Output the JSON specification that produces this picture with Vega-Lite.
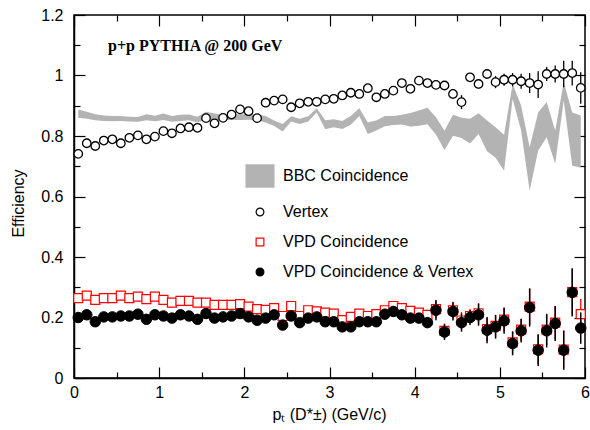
{
  "$schema": "https://vega.github.io/schema/vega-lite/v6.json",
  "width": 511,
  "height": 363,
  "autosize": "none",
  "padding": {"left": 74, "top": 15, "right": 5, "bottom": 52},
  "background": "white",
  "config": {
    "view": {"stroke": "black", "strokeWidth": 1.5},
    "axis": {"grid": false, "labelColor": "black", "tickColor": "black", "domainColor": "black"}
  },
  "datasets": {
    "band": [
      {"pt": 0.05, "lo": 0.860, "hi": 0.888}, {"pt": 0.15, "lo": 0.857, "hi": 0.880},
      {"pt": 0.25, "lo": 0.852, "hi": 0.872}, {"pt": 0.35, "lo": 0.850, "hi": 0.868},
      {"pt": 0.45, "lo": 0.849, "hi": 0.866}, {"pt": 0.55, "lo": 0.850, "hi": 0.866},
      {"pt": 0.65, "lo": 0.848, "hi": 0.864}, {"pt": 0.75, "lo": 0.847, "hi": 0.863},
      {"pt": 0.85, "lo": 0.852, "hi": 0.872}, {"pt": 0.95, "lo": 0.849, "hi": 0.867},
      {"pt": 1.05, "lo": 0.853, "hi": 0.874}, {"pt": 1.15, "lo": 0.847, "hi": 0.866},
      {"pt": 1.25, "lo": 0.850, "hi": 0.870}, {"pt": 1.35, "lo": 0.852, "hi": 0.871},
      {"pt": 1.45, "lo": 0.845, "hi": 0.864}, {"pt": 1.55, "lo": 0.856, "hi": 0.880},
      {"pt": 1.65, "lo": 0.854, "hi": 0.874}, {"pt": 1.75, "lo": 0.852, "hi": 0.870},
      {"pt": 1.85, "lo": 0.853, "hi": 0.871}, {"pt": 1.95, "lo": 0.853, "hi": 0.872},
      {"pt": 2.05, "lo": 0.854, "hi": 0.873}, {"pt": 2.15, "lo": 0.852, "hi": 0.871},
      {"pt": 2.25, "lo": 0.845, "hi": 0.866}, {"pt": 2.35, "lo": 0.833, "hi": 0.851},
      {"pt": 2.45, "lo": 0.815, "hi": 0.840}, {"pt": 2.55, "lo": 0.848, "hi": 0.865},
      {"pt": 2.65, "lo": 0.840, "hi": 0.857}, {"pt": 2.75, "lo": 0.848, "hi": 0.865},
      {"pt": 2.85, "lo": 0.878, "hi": 0.892}, {"pt": 2.95, "lo": 0.822, "hi": 0.852},
      {"pt": 3.05, "lo": 0.829, "hi": 0.855}, {"pt": 3.15, "lo": 0.823, "hi": 0.850},
      {"pt": 3.25, "lo": 0.837, "hi": 0.866}, {"pt": 3.35, "lo": 0.866, "hi": 0.892},
      {"pt": 3.45, "lo": 0.807, "hi": 0.845}, {"pt": 3.55, "lo": 0.818, "hi": 0.851},
      {"pt": 3.65, "lo": 0.832, "hi": 0.866}, {"pt": 3.75, "lo": 0.836, "hi": 0.866},
      {"pt": 3.85, "lo": 0.838, "hi": 0.870}, {"pt": 3.95, "lo": 0.831, "hi": 0.876},
      {"pt": 4.05, "lo": 0.834, "hi": 0.884}, {"pt": 4.15, "lo": 0.839, "hi": 0.893},
      {"pt": 4.25, "lo": 0.805, "hi": 0.862}, {"pt": 4.35, "lo": 0.754, "hi": 0.817},
      {"pt": 4.45, "lo": 0.801, "hi": 0.870}, {"pt": 4.55, "lo": 0.793, "hi": 0.860},
      {"pt": 4.65, "lo": 0.775, "hi": 0.857}, {"pt": 4.75, "lo": 0.807, "hi": 0.875},
      {"pt": 4.85, "lo": 0.750, "hi": 0.851}, {"pt": 4.95, "lo": 0.728, "hi": 0.829},
      {"pt": 5.05, "lo": 0.685, "hi": 0.804}, {"pt": 5.15, "lo": 0.923, "hi": 0.972},
      {"pt": 5.25, "lo": 0.818, "hi": 0.901}, {"pt": 5.35, "lo": 0.619, "hi": 0.763},
      {"pt": 5.45, "lo": 0.752, "hi": 0.878}, {"pt": 5.55, "lo": 0.796, "hi": 0.912},
      {"pt": 5.65, "lo": 0.708, "hi": 0.818}, {"pt": 5.75, "lo": 0.917, "hi": 0.978},
      {"pt": 5.85, "lo": 0.702, "hi": 0.878}, {"pt": 5.95, "lo": 0.696, "hi": 0.868}
    ],
    "vertex": [
      {"pt": 0.05, "eff": 0.741, "err": 0.006}, {"pt": 0.15, "eff": 0.776, "err": 0.006},
      {"pt": 0.25, "eff": 0.767, "err": 0.006}, {"pt": 0.35, "eff": 0.785, "err": 0.006},
      {"pt": 0.45, "eff": 0.789, "err": 0.006}, {"pt": 0.55, "eff": 0.776, "err": 0.006},
      {"pt": 0.65, "eff": 0.794, "err": 0.006}, {"pt": 0.75, "eff": 0.802, "err": 0.006},
      {"pt": 0.85, "eff": 0.789, "err": 0.006}, {"pt": 0.95, "eff": 0.798, "err": 0.006},
      {"pt": 1.05, "eff": 0.816, "err": 0.006}, {"pt": 1.15, "eff": 0.809, "err": 0.006},
      {"pt": 1.25, "eff": 0.825, "err": 0.006}, {"pt": 1.35, "eff": 0.829, "err": 0.006},
      {"pt": 1.45, "eff": 0.827, "err": 0.006}, {"pt": 1.55, "eff": 0.859, "err": 0.006},
      {"pt": 1.65, "eff": 0.842, "err": 0.006}, {"pt": 1.75, "eff": 0.860, "err": 0.006},
      {"pt": 1.85, "eff": 0.871, "err": 0.006}, {"pt": 1.95, "eff": 0.888, "err": 0.006},
      {"pt": 2.05, "eff": 0.882, "err": 0.007}, {"pt": 2.15, "eff": 0.859, "err": 0.007},
      {"pt": 2.25, "eff": 0.910, "err": 0.007}, {"pt": 2.35, "eff": 0.917, "err": 0.007},
      {"pt": 2.45, "eff": 0.921, "err": 0.007}, {"pt": 2.55, "eff": 0.895, "err": 0.007},
      {"pt": 2.65, "eff": 0.908, "err": 0.007}, {"pt": 2.75, "eff": 0.913, "err": 0.007},
      {"pt": 2.85, "eff": 0.913, "err": 0.008}, {"pt": 2.95, "eff": 0.921, "err": 0.008},
      {"pt": 3.05, "eff": 0.923, "err": 0.008}, {"pt": 3.15, "eff": 0.934, "err": 0.008},
      {"pt": 3.25, "eff": 0.943, "err": 0.008}, {"pt": 3.35, "eff": 0.939, "err": 0.009},
      {"pt": 3.45, "eff": 0.958, "err": 0.009}, {"pt": 3.55, "eff": 0.928, "err": 0.009},
      {"pt": 3.65, "eff": 0.939, "err": 0.010}, {"pt": 3.75, "eff": 0.950, "err": 0.010},
      {"pt": 3.85, "eff": 0.975, "err": 0.010}, {"pt": 3.95, "eff": 0.956, "err": 0.011},
      {"pt": 4.05, "eff": 0.983, "err": 0.011}, {"pt": 4.15, "eff": 0.975, "err": 0.011},
      {"pt": 4.25, "eff": 0.969, "err": 0.012}, {"pt": 4.35, "eff": 0.967, "err": 0.012},
      {"pt": 4.45, "eff": 0.939, "err": 0.016}, {"pt": 4.55, "eff": 0.912, "err": 0.023},
      {"pt": 4.65, "eff": 0.994, "err": 0.010}, {"pt": 4.75, "eff": 0.972, "err": 0.015},
      {"pt": 4.85, "eff": 1.005, "err": 0.010}, {"pt": 4.95, "eff": 0.978, "err": 0.020},
      {"pt": 5.05, "eff": 0.986, "err": 0.020}, {"pt": 5.15, "eff": 0.986, "err": 0.022},
      {"pt": 5.25, "eff": 0.981, "err": 0.025}, {"pt": 5.35, "eff": 0.975, "err": 0.033},
      {"pt": 5.45, "eff": 0.970, "err": 0.044}, {"pt": 5.55, "eff": 1.005, "err": 0.023},
      {"pt": 5.65, "eff": 1.005, "err": 0.028}, {"pt": 5.75, "eff": 1.005, "err": 0.044},
      {"pt": 5.85, "eff": 1.008, "err": 0.041}, {"pt": 5.95, "eff": 0.959, "err": 0.052}
    ],
    "vpd": [
      {"pt": 0.05, "eff": 0.264, "err": 0.005}, {"pt": 0.15, "eff": 0.272, "err": 0.005},
      {"pt": 0.25, "eff": 0.258, "err": 0.005}, {"pt": 0.35, "eff": 0.264, "err": 0.005},
      {"pt": 0.45, "eff": 0.264, "err": 0.005}, {"pt": 0.55, "eff": 0.272, "err": 0.005},
      {"pt": 0.65, "eff": 0.264, "err": 0.005}, {"pt": 0.75, "eff": 0.269, "err": 0.005},
      {"pt": 0.85, "eff": 0.261, "err": 0.005}, {"pt": 0.95, "eff": 0.269, "err": 0.005},
      {"pt": 1.05, "eff": 0.258, "err": 0.005}, {"pt": 1.15, "eff": 0.249, "err": 0.005},
      {"pt": 1.25, "eff": 0.255, "err": 0.005}, {"pt": 1.35, "eff": 0.255, "err": 0.005},
      {"pt": 1.45, "eff": 0.249, "err": 0.005}, {"pt": 1.55, "eff": 0.249, "err": 0.005},
      {"pt": 1.65, "eff": 0.242, "err": 0.005}, {"pt": 1.75, "eff": 0.242, "err": 0.005},
      {"pt": 1.85, "eff": 0.242, "err": 0.005}, {"pt": 1.95, "eff": 0.244, "err": 0.005},
      {"pt": 2.05, "eff": 0.236, "err": 0.006}, {"pt": 2.15, "eff": 0.228, "err": 0.006},
      {"pt": 2.25, "eff": 0.225, "err": 0.006}, {"pt": 2.35, "eff": 0.231, "err": 0.006},
      {"pt": 2.45, "eff": 0.205, "err": 0.006}, {"pt": 2.55, "eff": 0.238, "err": 0.006},
      {"pt": 2.65, "eff": 0.205, "err": 0.006}, {"pt": 2.75, "eff": 0.224, "err": 0.006},
      {"pt": 2.85, "eff": 0.220, "err": 0.007}, {"pt": 2.95, "eff": 0.216, "err": 0.007},
      {"pt": 3.05, "eff": 0.213, "err": 0.007}, {"pt": 3.15, "eff": 0.191, "err": 0.007},
      {"pt": 3.25, "eff": 0.202, "err": 0.008}, {"pt": 3.35, "eff": 0.213, "err": 0.008},
      {"pt": 3.45, "eff": 0.205, "err": 0.009}, {"pt": 3.55, "eff": 0.211, "err": 0.009},
      {"pt": 3.65, "eff": 0.224, "err": 0.012}, {"pt": 3.75, "eff": 0.238, "err": 0.014},
      {"pt": 3.85, "eff": 0.231, "err": 0.014}, {"pt": 3.95, "eff": 0.222, "err": 0.015},
      {"pt": 4.05, "eff": 0.216, "err": 0.015}, {"pt": 4.15, "eff": 0.209, "err": 0.016},
      {"pt": 4.25, "eff": 0.228, "err": 0.030}, {"pt": 4.35, "eff": 0.156, "err": 0.024},
      {"pt": 4.45, "eff": 0.224, "err": 0.028}, {"pt": 4.55, "eff": 0.190, "err": 0.028},
      {"pt": 4.65, "eff": 0.205, "err": 0.024}, {"pt": 4.75, "eff": 0.214, "err": 0.034},
      {"pt": 4.85, "eff": 0.162, "err": 0.040}, {"pt": 4.95, "eff": 0.172, "err": 0.037},
      {"pt": 5.05, "eff": 0.193, "err": 0.040}, {"pt": 5.15, "eff": 0.118, "err": 0.037},
      {"pt": 5.25, "eff": 0.160, "err": 0.037}, {"pt": 5.35, "eff": 0.236, "err": 0.060},
      {"pt": 5.45, "eff": 0.095, "err": 0.050}, {"pt": 5.55, "eff": 0.160, "err": 0.052},
      {"pt": 5.65, "eff": 0.183, "err": 0.055}, {"pt": 5.75, "eff": 0.094, "err": 0.062},
      {"pt": 5.85, "eff": 0.284, "err": 0.076}, {"pt": 5.95, "eff": 0.211, "err": 0.050}
    ],
    "vpdv": [
      {"pt": 0.05, "eff": 0.200, "err": 0.006}, {"pt": 0.15, "eff": 0.209, "err": 0.006},
      {"pt": 0.25, "eff": 0.186, "err": 0.006}, {"pt": 0.35, "eff": 0.202, "err": 0.006},
      {"pt": 0.45, "eff": 0.202, "err": 0.006}, {"pt": 0.55, "eff": 0.205, "err": 0.006},
      {"pt": 0.65, "eff": 0.205, "err": 0.006}, {"pt": 0.75, "eff": 0.211, "err": 0.006},
      {"pt": 0.85, "eff": 0.194, "err": 0.006}, {"pt": 0.95, "eff": 0.209, "err": 0.006},
      {"pt": 1.05, "eff": 0.205, "err": 0.006}, {"pt": 1.15, "eff": 0.198, "err": 0.006},
      {"pt": 1.25, "eff": 0.209, "err": 0.006}, {"pt": 1.35, "eff": 0.205, "err": 0.006},
      {"pt": 1.45, "eff": 0.194, "err": 0.006}, {"pt": 1.55, "eff": 0.213, "err": 0.006},
      {"pt": 1.65, "eff": 0.198, "err": 0.006}, {"pt": 1.75, "eff": 0.202, "err": 0.006},
      {"pt": 1.85, "eff": 0.205, "err": 0.006}, {"pt": 1.95, "eff": 0.213, "err": 0.006},
      {"pt": 2.05, "eff": 0.202, "err": 0.007}, {"pt": 2.15, "eff": 0.191, "err": 0.007},
      {"pt": 2.25, "eff": 0.198, "err": 0.007}, {"pt": 2.35, "eff": 0.209, "err": 0.007},
      {"pt": 2.45, "eff": 0.175, "err": 0.007}, {"pt": 2.55, "eff": 0.205, "err": 0.007},
      {"pt": 2.65, "eff": 0.183, "err": 0.007}, {"pt": 2.75, "eff": 0.198, "err": 0.007},
      {"pt": 2.85, "eff": 0.202, "err": 0.008}, {"pt": 2.95, "eff": 0.186, "err": 0.008},
      {"pt": 3.05, "eff": 0.186, "err": 0.008}, {"pt": 3.15, "eff": 0.169, "err": 0.008},
      {"pt": 3.25, "eff": 0.169, "err": 0.009}, {"pt": 3.35, "eff": 0.186, "err": 0.009},
      {"pt": 3.45, "eff": 0.186, "err": 0.010}, {"pt": 3.55, "eff": 0.186, "err": 0.010},
      {"pt": 3.65, "eff": 0.211, "err": 0.015}, {"pt": 3.75, "eff": 0.220, "err": 0.016},
      {"pt": 3.85, "eff": 0.209, "err": 0.016}, {"pt": 3.95, "eff": 0.198, "err": 0.017},
      {"pt": 4.05, "eff": 0.198, "err": 0.017}, {"pt": 4.15, "eff": 0.183, "err": 0.018},
      {"pt": 4.25, "eff": 0.224, "err": 0.033}, {"pt": 4.35, "eff": 0.152, "err": 0.026},
      {"pt": 4.45, "eff": 0.220, "err": 0.030}, {"pt": 4.55, "eff": 0.183, "err": 0.030},
      {"pt": 4.65, "eff": 0.200, "err": 0.025}, {"pt": 4.75, "eff": 0.209, "err": 0.036},
      {"pt": 4.85, "eff": 0.158, "err": 0.043}, {"pt": 4.95, "eff": 0.169, "err": 0.039},
      {"pt": 5.05, "eff": 0.189, "err": 0.043}, {"pt": 5.15, "eff": 0.114, "err": 0.039},
      {"pt": 5.25, "eff": 0.156, "err": 0.039}, {"pt": 5.35, "eff": 0.233, "err": 0.063},
      {"pt": 5.45, "eff": 0.092, "err": 0.052}, {"pt": 5.55, "eff": 0.156, "err": 0.055},
      {"pt": 5.65, "eff": 0.180, "err": 0.058}, {"pt": 5.75, "eff": 0.092, "err": 0.065},
      {"pt": 5.85, "eff": 0.283, "err": 0.080}, {"pt": 5.95, "eff": 0.165, "err": 0.052}
    ],
    "label": [{"text": "p+p PYTHIA @ 200 GeV", "x": 0.4, "y": 1.096}]
  },
  "resolve": {"axis": {"x": "independent", "y": "independent"}},
  "layer": [
    {
      "data": {"name": "band"},
      "mark": {"type": "area", "color": "#b3b3b3", "opacity": 1},
      "encoding": {
        "x": {"field": "pt", "type": "quantitative", "scale": {"domain": [0, 6], "nice": false},
          "axis": {"orient": "bottom", "values": [0, 1, 2, 3, 4, 5, 6], "format": "~g", "ticks": false,
            "labelFlush": false, "labelPadding": 6, "labelFont": "Liberation Sans", "labelFontSize": 16,
            "domainWidth": 1.5, "title": "pₜ (D*±) (GeV/c)", "titleFont": "Liberation Sans",
            "titleFontSize": 16, "titleFontWeight": "normal", "titleColor": "black",
            "titleX": 255, "titleY": 36, "titleAlign": "center", "titleBaseline": "middle"}},
        "y": {"field": "lo", "type": "quantitative", "scale": {"domain": [0, 1.2], "nice": false},
          "axis": {"orient": "left", "values": [0, 0.2, 0.4, 0.6, 0.8, 1, 1.2], "format": "~g", "ticks": false,
            "labelFlush": false, "labelPadding": 11, "labelFont": "Liberation Sans", "labelFontSize": 16,
            "domainWidth": 1.5, "title": "Efficiency", "titleFont": "Liberation Sans",
            "titleFontSize": 16, "titleFontWeight": "normal", "titleColor": "black",
            "titleX": -56, "titleY": 188, "titleAngle": 270, "titleAlign": "center", "titleBaseline": "middle"}},
        "y2": {"field": "hi"}
      }
    },
    {
      "data": {"name": "vertex"},
      "mark": {"type": "errorbar", "color": "black", "thickness": 1.3},
      "encoding": {
        "x": {"field": "pt", "type": "quantitative",
          "axis": {"orient": "top", "values": [0.5, 1.5, 2.5, 3.5, 4.5, 5.5], "labels": false, "domain": false,
            "tickSize": -6, "tickWidth": 1.2, "title": null}},
        "y": {"field": "eff", "type": "quantitative",
          "axis": {"orient": "right", "values": [0.1, 0.3, 0.5, 0.7, 0.9, 1.1], "labels": false, "domain": false,
            "tickSize": -6, "tickWidth": 1.2, "title": null}},
        "yError": {"field": "err"}
      }
    },
    {
      "data": {"name": "vertex"},
      "mark": {"type": "point", "size": 72, "strokeWidth": 1.3, "opacity": 1},
      "encoding": {
        "x": {"field": "pt", "type": "quantitative",
          "axis": {"orient": "bottom", "values": [0, 1, 2, 3, 4, 5, 6], "labels": false, "domain": false,
            "tickSize": -11, "tickWidth": 1.2, "title": null}},
        "y": {"field": "eff", "type": "quantitative",
          "axis": {"orient": "left", "values": [0, 0.2, 0.4, 0.6, 0.8, 1, 1.2], "labels": false, "domain": false,
            "tickSize": -11, "tickWidth": 1.2, "title": null}},
        "stroke": {"datum": "Vertex", "type": "nominal",
          "scale": {"domain": ["BBC Coincidence", "Vertex", "VPD Coincidence", "VPD Coincidence & Vertex"],
            "range": ["#b3b3b3", "black", "#ff0000", "black"]},
          "legend": {"orient": "none", "legendX": 178, "legendY": 153, "title": null, "padding": 0,
            "labelFont": "Liberation Sans", "labelFontSize": 16, "labelColor": "black", "labelOffset": 15,
            "labelLimit": 0, "symbolSize": 60, "symbolStrokeWidth": 1.2, "rowPadding": 14}},
        "fill": {"datum": "Vertex", "type": "nominal",
          "scale": {"domain": ["BBC Coincidence", "Vertex", "VPD Coincidence", "VPD Coincidence & Vertex"],
            "range": ["#b3b3b3", "white", "white", "black"]}},
        "shape": {"datum": "Vertex", "type": "nominal",
          "scale": {"domain": ["BBC Coincidence", "Vertex", "VPD Coincidence", "VPD Coincidence & Vertex"],
            "range": ["M-3.6,-2.85H3.6V2.85H-3.6Z", "circle", "square", "circle"]}}
      }
    },
    {
      "data": {"name": "vpd"},
      "mark": {"type": "errorbar", "color": "#ff0000", "thickness": 1.3},
      "encoding": {
        "x": {"field": "pt", "type": "quantitative", "axis": null},
        "y": {"field": "eff", "type": "quantitative", "axis": null},
        "yError": {"field": "err"}
      }
    },
    {
      "data": {"name": "vpd"},
      "mark": {"type": "point", "size": 81, "strokeWidth": 1.2, "opacity": 1},
      "encoding": {
        "x": {"field": "pt", "type": "quantitative",
          "axis": {"orient": "bottom", "values": [0.5, 1.5, 2.5, 3.5, 4.5, 5.5], "labels": false, "domain": false,
            "tickSize": -6, "tickWidth": 1.2, "title": null}},
        "y": {"field": "eff", "type": "quantitative",
          "axis": {"orient": "left", "values": [0.1, 0.3, 0.5, 0.7, 0.9, 1.1], "labels": false, "domain": false,
            "tickSize": -6, "tickWidth": 1.2, "title": null}},
        "stroke": {"datum": "VPD Coincidence", "type": "nominal"},
        "fill": {"datum": "VPD Coincidence", "type": "nominal"},
        "shape": {"datum": "VPD Coincidence", "type": "nominal"}
      }
    },
    {
      "data": {"name": "vpdv"},
      "mark": {"type": "errorbar", "color": "black", "thickness": 1.5},
      "encoding": {
        "x": {"field": "pt", "type": "quantitative", "axis": null},
        "y": {"field": "eff", "type": "quantitative", "axis": null},
        "yError": {"field": "err"}
      }
    },
    {
      "data": {"name": "vpdv"},
      "mark": {"type": "point", "size": 110, "strokeWidth": 1, "opacity": 1},
      "encoding": {
        "x": {"field": "pt", "type": "quantitative",
          "axis": {"orient": "top", "values": [0, 1, 2, 3, 4, 5, 6], "labels": false, "domain": false,
            "tickSize": -11, "tickWidth": 1.2, "title": null}},
        "y": {"field": "eff", "type": "quantitative",
          "axis": {"orient": "right", "values": [0, 0.2, 0.4, 0.6, 0.8, 1, 1.2], "labels": false, "domain": false,
            "tickSize": -11, "tickWidth": 1.2, "title": null}},
        "stroke": {"datum": "VPD Coincidence & Vertex", "type": "nominal"},
        "fill": {"datum": "VPD Coincidence & Vertex", "type": "nominal"},
        "shape": {"datum": "VPD Coincidence & Vertex", "type": "nominal"}
      }
    },
    {
      "data": {"name": "label"},
      "mark": {"type": "text", "font": "Liberation Serif", "fontWeight": "bold", "fontSize": 16,
        "align": "left", "baseline": "middle", "color": "black"},
      "encoding": {
        "x": {"field": "x", "type": "quantitative", "axis": null},
        "y": {"field": "y", "type": "quantitative", "axis": null},
        "text": {"field": "text"}
      }
    }
  ]
}
